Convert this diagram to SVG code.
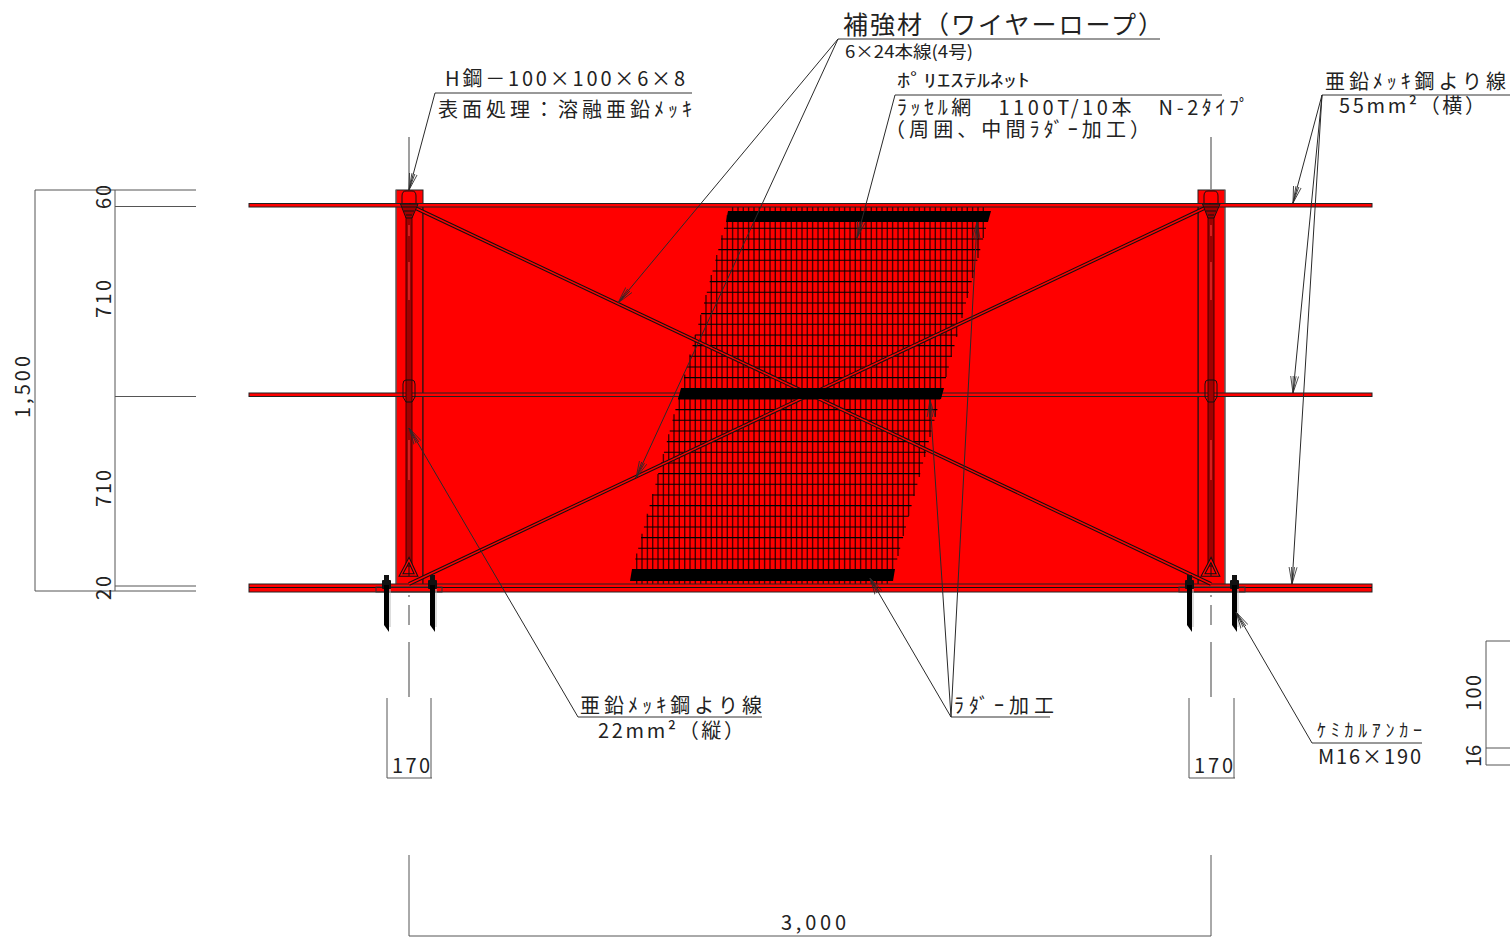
<svg xmlns="http://www.w3.org/2000/svg" width="1510" height="938" viewBox="0 0 1510 938">
<style>
text{font-family:"Noto Sans CJK JP","DejaVu Sans",sans-serif;fill:#222}
.t20{font-size:20px}.t18{font-size:18px}.t17{font-size:17px}.t25{font-size:25px}
.red{fill:#ff0000;stroke:#222;stroke-width:1}
.dim{fill:none;stroke:#555;stroke-width:1}
.cl{fill:none;stroke:#888;stroke-width:1.6}
.ul{fill:none;stroke:#333;stroke-width:1}
.ld{fill:none;stroke:#2a2a2a;stroke-width:1;marker-end:url(#arrow)}
.bk{fill:#000}
.dk{fill:none;stroke:#111;stroke-width:1}
</style>
<defs>
<marker id="arrow" markerUnits="userSpaceOnUse" markerWidth="20" markerHeight="12" refX="17" refY="5" orient="auto">
<path d="M0 1L17 5M0 9L17 5M0 3.500L17 5M0 6.500L17 5" fill="none" stroke="#2a2a2a" stroke-width=".8"/>
</marker>
<g id="postDetail">
<rect x="406" y="216" width="6" height="350" fill="#a00000" stroke="#300" stroke-width=".9"/>
<path d="M409 225V236M409 262V300M409 440V480" stroke="#ff3030" stroke-width="1.200" fill="none"/>
<path d="M402 203V196Q402 191 406 191H412Q416 191 416 196V203" class="dk"/>
<path d="M400.500 204L418 204L412 218H406Z" fill="#a00000" stroke="#111"/>
<path d="M402 207H416M404 211H414M406 215H412" class="dk"/>
<path d="M403 393V384Q403 380 406 380H412Q415 380 415 384V397L412 402H406L403 397Z" class="dk"/>
<path d="M409 560L416 575H401Z" fill="none" stroke="#111" stroke-width="3.400"/>
<path d="M409 560L416 575H401Z" fill="none" stroke="#ff0000" stroke-width="1.300"/>
<path d="M409 566V576" class="dk"/>
</g>
<g id="anchor">
<rect x="0" y="0" width="5" height="8" fill="#111"/>
<rect x="-2" y="5" width="9" height="9" rx="1" fill="#111"/>
<path d="M0 10H5V57L0 50Z" fill="#000"/>
<path d="M6 14V52" stroke="#bbb" stroke-width="1"/>
</g>
</defs>

<g id="panel">
<rect x="396" y="190" width="27" height="401" class="red"/>
<rect x="1198" y="190" width="27" height="401" class="red"/>
<rect x="423" y="204" width="775" height="387" fill="#ff0000"/>
<path d="M423 204V591M1198 204V591" class="dk"/>
<path d="M396 190V591M1225 190V591" stroke="#777" fill="none"/>
</g>

<g id="center-lines">
<path class="cl" d="M409 137V190M409 595V597M409 605V625M409 642V697"/>
<path class="cl" d="M1211 137V190M1211 595V597M1211 605V625M1211 642V697"/>
</g>

<g id="net">
<path d="M636.700 553.600V590M642 533.700V590M647.400 513.800V590M652.700 493.900V590M658 474V590M663.400 454.100V590M668.700 434.200V590M674 414.300V590M679.300 394.400V590M684.700 374.500V590M690 354.600V590M695.300 334.700V590M700.700 314.800V590M706 294.900V590M711.300 275V590M716.700 255.100V590M722 235.200V590M727.300 215.300V590M732.600 206V590M738 206V590M743.300 206V590M748.600 206V590M754 206V590M759.300 206V590M764.600 206V590M770 206V590M775.300 206V590M780.600 206V590M786 206V590M791.300 206V590M796.600 206V590M802 206V590M807.300 206V590M812.600 206V590M818 206V590M823.300 206V590M828.600 206V590M834 206V590M839.300 206V590M844.600 206V590M850 206V590M855.300 206V590M860.600 206V590M866 206V590M871.300 206V590M876.600 206V590M882 206V590M887.300 206V590M892.600 206V576M898 206V556M903.300 206V536M908.600 206V516M914 206V496M919.300 206V477M924.600 206V457M930 206V437M935.300 206V417M940.600 206V397M946 206V377M951.300 206V357M956.600 206V337M962 206V318M967.300 206V298M972.600 206V278M978 206V258M983.300 206V238" fill="none" stroke="#400000" stroke-width="1.400" stroke-opacity=".95"/>
<path d="M724 228.300h262M721.100 239h262M718.300 249.600h262M715.400 260.300h262M712.600 271h262M709.700 281.600h262M706.800 292.300h262M704 303h262M701.100 313.600h262M698.300 324.300h262M695.400 335h262M692.500 345.600h262M689.700 356.300h262M686.800 367h262M684 377.600h262M678.200 399h262M675.400 409.600h262M672.500 420.300h262M669.700 431h262M666.800 441.600h262M663.900 452.300h262M661.100 463h262M658.200 473.600h262M655.400 484.300h262M652.500 495h262M649.600 505.600h262M646.800 516.300h262M643.900 527h262M641.100 537.600h262M638.200 548.300h262M635.300 559h262" fill="none" stroke="#000" stroke-width="1.100"/>
</g>

<g id="wires">
<rect x="249" y="203.500" width="1123" height="3.500" class="red"/>
<rect x="249" y="393" width="1123" height="3.500" class="red"/>
<rect x="249" y="584" width="1123" height="8" class="red"/>
<path d="M249 587.500H1372" class="dk"/>
<rect x="376" y="587" width="66" height="5" fill="none" stroke="#333"/>
<rect x="1179" y="587" width="66" height="5" fill="none" stroke="#333"/>
</g>

<g id="diagonals">
<path d="M409 205L1211 584M1211 205L409 584" fill="none" stroke="#111" stroke-width="3.600"/>
<path d="M409 205L1211 584M1211 205L409 584" fill="none" stroke="#ff0000" stroke-width="1.500"/>
</g>

<g id="post-left"><use href="#postDetail"/></g>
<g id="post-right"><use href="#postDetail" x="802"/></g>

<g id="rubber-bars">
<polygon class="bk" points="728,211 991,211 988,222 726,222"/>
<polygon class="bk" points="681,388 944,388 941,399 678,399"/>
<polygon class="bk" points="632,569 895,569 893,581 630,581"/>
</g>

<g id="anchors">
<use href="#anchor" x="384" y="575"/>
<use href="#anchor" x="430" y="575"/>
<use href="#anchor" x="1187" y="575"/>
<use href="#anchor" x="1232" y="575"/>
</g>

<g id="dimensions">
<path class="dim" d="M196 190H35V591H196M115 190V591M115 206.500H196M115 396.500H196M115 586H196"/>
<path class="dim" d="M387 698V778M431 698V778M387 778H432"/>
<path class="dim" d="M1189 698V778M1234 698V778M1189 778H1235"/>
<path class="dim" d="M409 855V936M1211 855V936M409 936H1211"/>
<path class="dim" d="M1510 641H1486V765H1510M1486 748H1510"/>
</g>

<g id="connectors">
<path class="ul" d="M838 39H1160M435 93H692M895 95H1222M1322 95H1510M578 717H762M951 717H1050M1312 743H1422"/>
<path class="ld" d="M838 39L618 303"/>
<path class="ld" d="M838 39L636 478"/>
<path class="ld" d="M435 93L409 190"/>
<path class="ld" d="M895 95L857 238"/>
<path class="ld" d="M1322 95L1293 203"/>
<path class="ld" d="M1322 95L1293 393"/>
<path class="ld" d="M1322 95L1292 584"/>
<path class="ld" d="M578 717L409 428"/>
<path class="ld" d="M951 717L870 578"/>
<path class="ld" d="M951 717L930 400"/>
<path class="ld" d="M951 717L977 222"/>
<path class="ld" d="M1312 743L1236 612"/>
</g>

<g id="labels">
<text class="t25" x="843" y="34" textLength="320" lengthAdjust="spacing">補強材（ワイヤーロープ）</text>
<text class="t17" x="845" y="58" textLength="128" lengthAdjust="spacingAndGlyphs">6×24本線(4号)</text>
<text class="t18" x="897" y="87" textLength="133" lengthAdjust="spacingAndGlyphs">ﾎﾟﾘｴｽﾃﾙﾈｯﾄ</text>
<text class="t20" x="897" y="115" textLength="352" lengthAdjust="spacing">ﾗｯｾﾙ網　1100T/10本　N-2ﾀｲﾌﾟ</text>
<text class="t20" x="885" y="137" textLength="265" lengthAdjust="spacing">（周囲、中間ﾗﾀﾞｰ加工）</text>
<text class="t20" x="445" y="86" textLength="240" lengthAdjust="spacing">H鋼－100×100×6×8</text>
<text class="t20" x="438" y="117" textLength="254" lengthAdjust="spacing">表面処理：溶融亜鉛ﾒｯｷ</text>
<text class="t20" x="1325" y="89" textLength="181" lengthAdjust="spacing">亜鉛ﾒｯｷ鋼より線</text>
<text class="t20" x="1339" y="113" textLength="146" lengthAdjust="spacing">55mm²（横）</text>
<text class="t20" x="580" y="713" textLength="182" lengthAdjust="spacing">亜鉛ﾒｯｷ鋼より線</text>
<text class="t20" x="598" y="738" textLength="146" lengthAdjust="spacing">22mm²（縦）</text>
<text class="t20" x="954" y="713" textLength="100" lengthAdjust="spacing">ﾗﾀﾞｰ加工</text>
<text class="t18" x="1317" y="737" textLength="105" lengthAdjust="spacing">ｹﾐｶﾙｱﾝｶｰ</text>
<text class="t20" x="1318" y="764" textLength="103" lengthAdjust="spacing">M16×190</text>
<text class="t20" x="392" y="773" textLength="38" lengthAdjust="spacing">170</text>
<text class="t20" x="1194" y="773" textLength="39" lengthAdjust="spacing">170</text>
<text class="t20" x="781" y="930" textLength="65" lengthAdjust="spacing">3,000</text>
<text class="t20" transform="translate(30 418) rotate(-90)" textLength="62" lengthAdjust="spacing">1,500</text>
<text class="t20" transform="translate(111 209) rotate(-90)" textLength="24" lengthAdjust="spacing">60</text>
<text class="t20" transform="translate(111 318) rotate(-90)" textLength="38" lengthAdjust="spacing">710</text>
<text class="t20" transform="translate(111 507) rotate(-90)" textLength="37" lengthAdjust="spacing">710</text>
<text class="t20" transform="translate(111 600) rotate(-90)" textLength="24" lengthAdjust="spacing">20</text>
<text class="t20" transform="translate(1481 711) rotate(-90)" textLength="36" lengthAdjust="spacing">100</text>
<text class="t20" transform="translate(1481 767) rotate(-90)" textLength="22" lengthAdjust="spacing">16</text>
</g>
</svg>
